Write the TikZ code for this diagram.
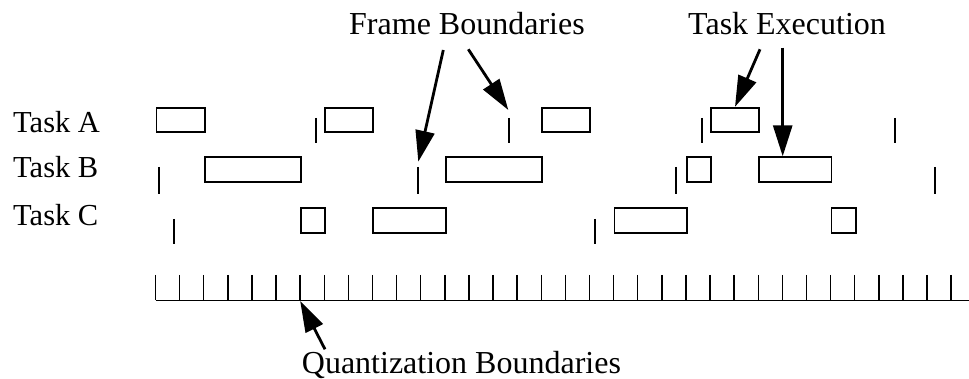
\documentclass[tikz,border=0pt]{standalone}
\usepackage{fontspec}
\setmainfont{Liberation Serif}
\usetikzlibrary{arrows.meta}
\tikzset{
  taskbox/.style={draw, line width=1.8pt, minimum height=24.5pt, inner sep=0pt, anchor=west},
  frametick/.style={line width=1.8pt},
  ruler/.style={line width=1.5pt},
  rowlabel/.style={anchor=base west, inner sep=0pt, font=\fontsize{30.5}{36}\selectfont},
  biglabel/.style={anchor=base west, inner sep=0pt, font=\fontsize{32}{38}\selectfont},
  pointer/.style={line width=2.8pt, -{Triangle[length=31pt,width=19pt]}}
}
\begin{document}
\begin{tikzpicture}[x=1pt,y=-1pt]
\useasboundingbox (0,0) rectangle (969,379);
\def\xo{155.5}
\def\u{24.11}
% row labels
\node[rowlabel] (la) at (13,133) {Task A};
\node[rowlabel] (lb) at (13,178) {Task B};
\node[rowlabel] (lc) at (13,225.7) {Task C};
% task boxes: name, start, length, y
\newcommand\mytaskbox[4]{\node[taskbox, minimum width=#3*\u pt] (#1) at ({\xo+#2*\u},#4) {};}
\mytaskbox{A1}{0}{2}{120}
\mytaskbox{A2}{7}{2}{120}
\mytaskbox{A3}{16}{2}{120}
\mytaskbox{A4}{23}{2}{120}
\mytaskbox{B1}{2}{4}{169.5}
\mytaskbox{B2}{12}{4}{169.5}
\mytaskbox{B3}{22}{1}{169.5}
\mytaskbox{B4}{25}{3}{169.5}
\mytaskbox{C1}{6}{1}{220.5}
\mytaskbox{C2}{9}{3}{220.5}
\mytaskbox{C3}{19}{3}{220.5}
\mytaskbox{C4}{28}{1}{220.5}
% frame boundary ticks
\foreach \x [count=\i] in {316,508.7,702,895}
  \draw[frametick] (\x,118) coordinate (fa\i) -- (\x,143);
\foreach \x [count=\i] in {159.3,418,676,935}
  \draw[frametick] (\x,167) coordinate (fb\i) -- (\x,194);
\foreach \x [count=\i] in {173.7,595}
  \draw[frametick] (\x,219) coordinate (fc\i) -- (\x,244);
% quantization ruler
\draw[ruler] (\xo,300.5) -- (969,300.5);
\foreach \k in {0,...,33}
  \draw[ruler] ({\xo+\k*\u},275) coordinate (q\k) -- ({\xo+\k*\u},300.5);
\coordinate (q6b) at ({\xo+6*\u},301);
% top labels
\node[biglabel] (frame) at (349,35) {Frame Boundaries};
\node[biglabel] (exec) at (688,35) {Task Execution};
\node[biglabel] (quant) at (301.7,373) {Quantization Boundaries};
% pointers
\coordinate (f1s) at (443.3,50);
\coordinate (f2s) at (468.3,49.3);
\coordinate (e1s) at (760,49.3);
\coordinate (e2s) at (782.7,47.7);
\coordinate (qs) at (325,349.3);
\draw[pointer] (f1s) -- (418.3,161.7);
\draw[pointer] (f2s) -- (508.3,110);
\draw[pointer] (e1s) -- (A4.north west -| 735,0);
\draw[pointer] (e2s) -- (B4.north west -| 782.7,0);
\draw[pointer] (qs) -- (q6b);
\end{tikzpicture}
\end{document}
